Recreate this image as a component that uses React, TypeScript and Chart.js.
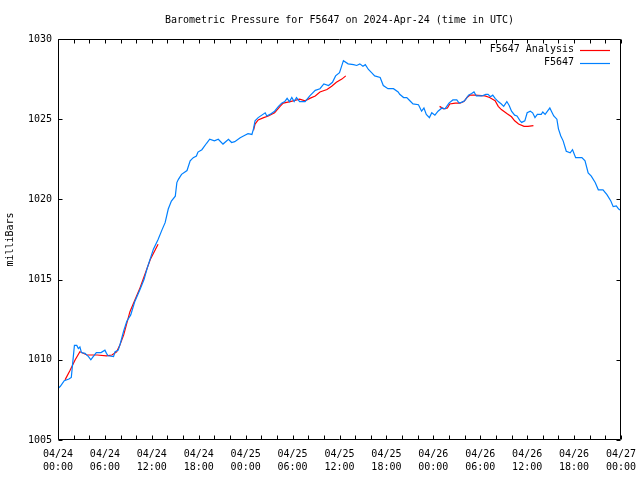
import React, { useEffect, useRef } from "react";
import { Chart, registerables } from "chart.js";

Chart.register(...registerables);

const titleText = "Barometric Pressure for F5647 on 2024-Apr-24 (time in UTC)";
const yAxisTitle = "milliBars";

// hours since 2024-04-24 00:00 UTC
const pressureHours = [
  0, 0.3, 0.8, 1.4, 1.7, 1.9, 2.1, 2.4, 2.6, 2.8, 3.0, 3.45, 3.9, 4.2, 4.5, 4.9, 5.5, 6.0, 6.2, 6.4,
  7.1, 7.3, 7.7, 7.9, 8.1, 8.4, 8.8, 9.3, 9.8, 10.5, 11.0, 11.4, 12.2, 12.8, 13.3, 13.7, 14.1, 14.5,
  15.0, 15.2, 15.4, 15.8, 16.5, 16.9, 17.3, 17.7, 17.9, 18.4, 19.0, 19.4, 20.0, 20.5, 21.1, 21.8,
  22.2, 22.6, 23.3, 23.9, 24.3, 24.8, 25.0, 25.2, 25.6, 26.5, 26.7, 27.1, 27.7, 28.2, 28.6, 29.0,
  29.3, 29.6, 29.9, 30.2, 30.5, 30.9, 31.6, 32.2, 32.9, 33.5, 34.0, 34.6, 35.1, 35.5, 36.0, 36.2,
  36.5, 37.1, 37.8, 38.2, 38.6, 39.0, 39.3, 39.7, 40.1, 40.5, 41.2, 41.6, 42.2, 42.9, 43.5, 43.7,
  44.2, 44.6, 45.0, 45.4, 46.1, 46.5, 46.8, 47.1, 47.5, 47.8, 48.2, 48.6, 49.1, 49.5, 50.0, 50.5,
  51.0, 51.3, 51.6, 52.0, 52.5, 52.9, 53.2, 53.5, 54.2, 54.7, 55.0, 55.3, 55.6, 55.9, 56.3, 56.7,
  57.0, 57.4, 57.7, 58.0, 58.4, 58.7, 59.1, 59.3, 59.7, 60.0, 60.4, 60.7, 61.0, 61.3, 61.8, 62.0,
  62.3, 62.6, 62.9, 63.1, 63.4, 63.8, 64.0, 64.3, 64.6, 65.0, 65.5, 65.8, 66.2, 67.0, 67.4, 67.8,
  68.2, 68.7, 69.1, 69.7, 70.2, 70.7, 71.0, 71.4, 71.7, 72.0,
];
const pressureValues = [
  1008.2, 1008.35, 1008.7, 1008.8, 1008.9, 1009.9, 1010.9, 1010.9, 1010.7, 1010.8, 1010.45, 1010.4,
  1010.2, 1010.0, 1010.2, 1010.45, 1010.45, 1010.6, 1010.4, 1010.25, 1010.2, 1010.5, 1010.6, 1010.9,
  1011.25, 1011.8, 1012.4, 1012.8, 1013.6, 1014.4, 1015.0, 1015.7, 1016.9, 1017.5, 1018.1, 1018.55,
  1019.4, 1019.9, 1020.2, 1021.05, 1021.25, 1021.56, 1021.8, 1022.4, 1022.6, 1022.7, 1022.95, 1023.1,
  1023.5, 1023.75, 1023.65, 1023.75, 1023.45, 1023.75, 1023.55, 1023.6, 1023.85, 1024.0, 1024.1,
  1024.05, 1024.4, 1024.9, 1025.1, 1025.4, 1025.2, 1025.3, 1025.5, 1025.8, 1026.0, 1026.1, 1026.3,
  1026.1, 1026.35, 1026.1, 1026.35, 1026.1, 1026.1, 1026.45, 1026.8, 1026.9, 1027.2, 1027.1, 1027.3,
  1027.7, 1027.9, 1028.2, 1028.65, 1028.45, 1028.4, 1028.35, 1028.45, 1028.3, 1028.4, 1028.1, 1027.9,
  1027.7, 1027.6, 1027.1, 1026.9, 1026.9, 1026.7, 1026.55, 1026.35, 1026.35, 1026.15, 1025.95, 1025.9,
  1025.5, 1025.7, 1025.3, 1025.1, 1025.4, 1025.25, 1025.5, 1025.7, 1025.65, 1026.0, 1026.2, 1026.2,
  1026.0, 1026.05, 1026.15, 1026.5, 1026.6, 1026.7, 1026.45, 1026.45, 1026.55, 1026.55, 1026.4,
  1026.5, 1026.3, 1026.1, 1025.95, 1025.8, 1026.1, 1025.85, 1025.5, 1025.25, 1025.2, 1024.9, 1024.8,
  1024.9, 1025.4, 1025.5, 1025.4, 1025.1, 1025.3, 1025.3, 1025.45, 1025.3, 1025.5, 1025.7, 1025.5,
  1025.2, 1025.0, 1024.4, 1023.95, 1023.65, 1023.0, 1022.9, 1023.1, 1022.6, 1022.6, 1022.4, 1021.65,
  1021.45, 1021.05, 1020.6, 1020.6, 1020.3, 1019.9, 1019.55, 1019.6, 1019.4, 1019.3,
];

// analysis runs (null separates runs)
const analysisHours = [
  0.9, 1.5, 2.2, 2.8, 3.7, 5.0, 6.2, 6.9, 7.5, 7.9, 8.4, 9.2, 10.5, 11.8, 12.8,
  18.0,
  25.0, 25.2, 25.6, 26.3, 26.9, 27.7, 28.4, 28.8, 29.7, 30.9, 31.6, 32.2, 32.9, 33.5, 34.4, 35.0,
  35.6, 36.3, 36.8,
  42.0,
  48.8, 49.3, 49.8, 50.1, 50.8, 51.4, 51.9, 52.3, 52.7, 53.3, 54.6, 55.2, 55.9, 56.3, 56.7, 57.4,
  58.0, 58.4, 58.9, 59.6, 60.1, 60.8,
];
const analysisValues = [
  1008.75, 1009.3, 1010.0, 1010.5, 1010.3, 1010.3, 1010.25, 1010.3, 1010.5, 1010.9, 1011.55, 1013.0,
  1014.5, 1016.25, 1017.2,
  null,
  1024.3, 1024.7, 1024.95, 1025.1, 1025.2, 1025.4, 1025.8, 1026.0, 1026.1, 1026.25, 1026.15, 1026.3,
  1026.45, 1026.7, 1026.85, 1027.05, 1027.3, 1027.5, 1027.7,
  null,
  1025.8, 1025.65, 1025.7, 1025.95, 1026.0, 1026.0, 1026.1, 1026.35, 1026.5, 1026.5, 1026.45,
  1026.35, 1026.15, 1025.8, 1025.6, 1025.35, 1025.15, 1024.9, 1024.7, 1024.55, 1024.55, 1024.6,
];

const xTickHours = [0, 6, 12, 18, 24, 30, 36, 42, 48, 54, 60, 66, 72];
const xTickDates = ["04/24", "04/24", "04/24", "04/24", "04/25", "04/25", "04/25", "04/25", "04/26", "04/26", "04/26", "04/26", "04/27"];
const xTickTimes = ["00:00", "06:00", "12:00", "18:00", "00:00", "06:00", "12:00", "18:00", "00:00", "06:00", "12:00", "18:00", "00:00"];
const yTickValues = [1005, 1010, 1015, 1020, 1025, 1030];

const FONT = '10px "DejaVu Sans Mono", "Liberation Mono", monospace';

const gnuplotFrame = {
  id: "gnuplotFrame",
  afterDraw(chart: any) {
    const ctx = chart.ctx;
    const { left, right, top, bottom } = chart.chartArea;
    const xs = chart.scales.x;
    const ys = chart.scales.y;
    const L = Math.round(left) + 0.5;
    const R = Math.round(right) - 0.5;
    const T = Math.round(top) + 0.5;
    const B = Math.round(bottom) - 0.5;
    ctx.save();
    ctx.strokeStyle = "#000";
    ctx.lineWidth = 1;
    ctx.beginPath();
    ctx.rect(L, T, R - L, B - T);
    for (let h = xTickHours[0]; h <= xTickHours[xTickHours.length - 1]; h += 2) {
      const px = Math.round(xs.getPixelForValue(h)) + 0.5;
      ctx.moveTo(px, B);
      ctx.lineTo(px, B - 4);
      ctx.moveTo(px, T);
      ctx.lineTo(px, T + 4);
    }
    for (const v of yTickValues) {
      const py = Math.round(ys.getPixelForValue(v)) + 0.5;
      ctx.moveTo(L, py);
      ctx.lineTo(L + 4, py);
      ctx.moveTo(R, py);
      ctx.lineTo(R - 4, py);
    }
    ctx.stroke();

    ctx.fillStyle = "#000";
    ctx.font = FONT;
    ctx.textBaseline = "middle";
    ctx.textAlign = "right";
    for (const v of yTickValues) {
      ctx.fillText(String(v), 52, ys.getPixelForValue(v));
    }
    ctx.textAlign = "center";
    xTickHours.forEach((h, i) => {
      const px = xs.getPixelForValue(h);
      ctx.fillText(xTickDates[i], px, 454);
      ctx.fillText(xTickTimes[i], px, 467);
    });
    ctx.fillText(titleText, (left + right) / 2, 20);
    ctx.save();
    ctx.translate(10, (top + bottom) / 2);
    ctx.rotate(-Math.PI / 2);
    ctx.fillText(yAxisTitle, 0, 0);
    ctx.restore();

    const ds = chart.data.datasets;
    const legendOrder = [1, 0];
    legendOrder.forEach((di, row) => {
      const d = ds[di];
      const ly = 49.5 + row * 13;
      ctx.textAlign = "right";
      ctx.fillStyle = "#000";
      ctx.fillText(d.label, 574, ly);
      ctx.strokeStyle = d.borderColor;
      ctx.lineWidth = 1.2;
      ctx.beginPath();
      ctx.moveTo(580, Math.round(ly) + 0.5);
      ctx.lineTo(610, Math.round(ly) + 0.5);
      ctx.stroke();
    });
    ctx.restore();
  },
};

export default function App() {
  const canvasRef = useRef<HTMLCanvasElement | null>(null);

  useEffect(() => {
    document.body.style.margin = "0";
    const canvas = canvasRef.current;
    if (!canvas) return;
    const chart = new Chart(canvas, {
      type: "line",
      data: {
        datasets: [
          {
            label: "F5647",
            data: pressureHours.map((h, i) => ({ x: h, y: pressureValues[i] })),
            borderColor: "#0080ff",
            borderWidth: 1.2,
            pointRadius: 0,
            tension: 0,
            order: 0,
          },
          {
            label: "F5647 Analysis",
            data: analysisHours.map((h, i) => ({ x: h, y: analysisValues[i] })),
            borderColor: "#ff0000",
            borderWidth: 1.2,
            pointRadius: 0,
            tension: 0,
            spanGaps: false,
            order: 1,
          },
        ],
      },
      options: {
        responsive: false,
        animation: false,
        devicePixelRatio: 1,
        layout: { padding: { left: 58, right: 19, top: 39, bottom: 40 } },
        scales: {
          x: { type: "linear", min: 0, max: 72, display: false },
          y: { type: "linear", min: 1005, max: 1030, display: false },
        },
        plugins: {
          legend: { display: false },
          tooltip: { enabled: false },
          title: { display: false },
        },
      },
      plugins: [gnuplotFrame],
    });
    return () => chart.destroy();
  }, []);

  return <canvas ref={canvasRef} width={640} height={480} style={{ display: "block" }} />;
}
